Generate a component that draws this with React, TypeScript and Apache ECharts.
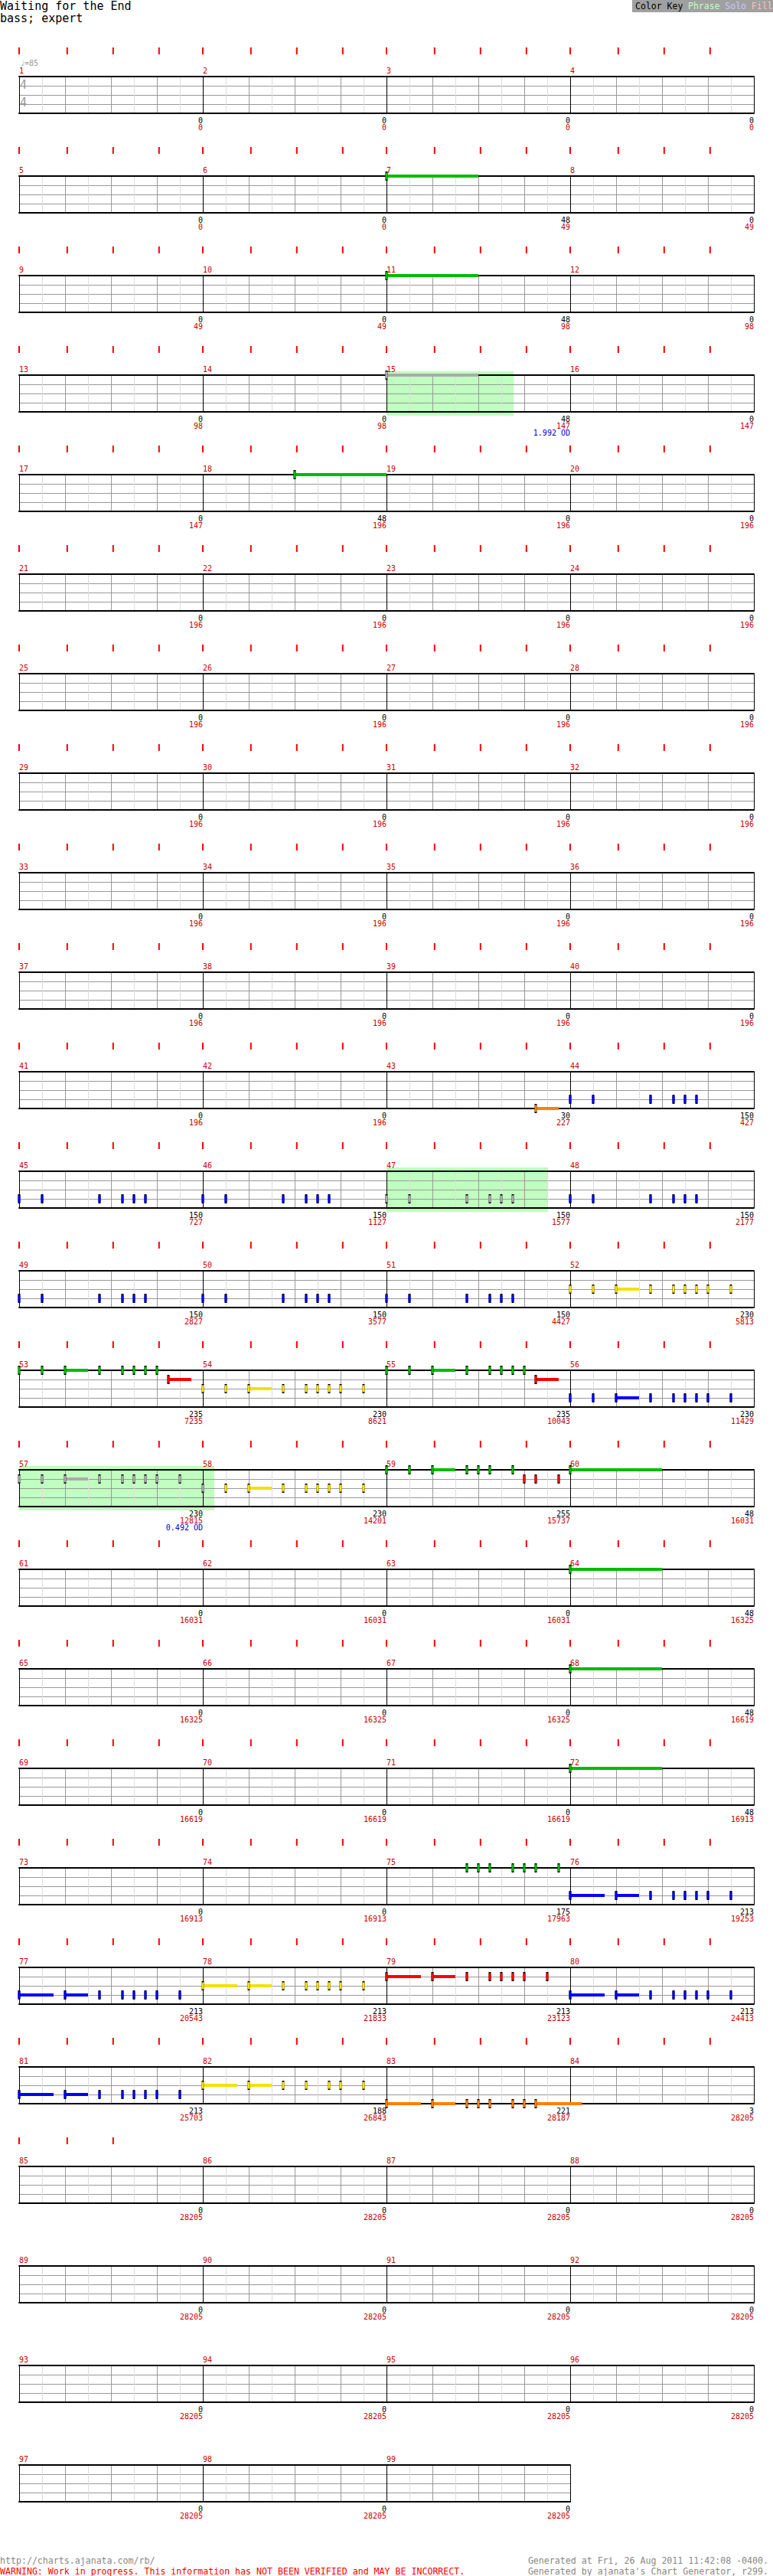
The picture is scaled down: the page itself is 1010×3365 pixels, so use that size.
import React, { useEffect, useRef } from "react";
import * as echarts from "echarts";

// ---------- texts ----------
const TITLE = "Waiting for the End";
const SUBTITLE = "bass; expert";
const TEMPO_LABEL = "\u2669=85";
const TIME_SIGNATURE = ["4", "4"];
const COLOR_KEY = [
  { text: "Color Key", color: "#000000" },
  { text: "Phrase", color: "#c0ffc0" },
  { text: "Solo", color: "#c8c8ff" },
  { text: "Fill", color: "#ffc0c0" },
];
const FOOTER_LEFT = [
  "http://charts.ajanata.com/rb/",
  "WARNING: Work in progress. This information has NOT BEEN VERIFIED and MAY BE INCORRECT.",
];
const FOOTER_RIGHT = [
  "Generated at Fri, 26 Aug 2011 11:42:08 -0400.",
  "Generated by ajanata's Chart Generator, r299.",
];

// ---------- structure ----------
const MEASURE_COUNT = 99;
const MEASURES_PER_ROW = 4;
const BEATS_PER_MEASURE = 4;
// red beat markers above each staff (beat offsets inside a measure)
const BEAT_MARKER_OFFSETS = [0, 1.047, 2.047, 3.047];
const LAST_MARKED_MEASURE = 85;
const LAST_MEASURE_MARKER_COUNT = 3;

// ---------- scores (per measure, and running total) ----------
const measureScores = [
  0, 0, 0, 0, 0, 0, 48, 0, 0, 0, 48, 0, 0, 0, 48, 0, 0, 48, 0, 0,
  0, 0, 0, 0, 0, 0, 0, 0, 0, 0, 0, 0, 0, 0, 0, 0, 0, 0, 0, 0,
  0, 0, 30, 150, 150, 150, 150, 150, 150, 150, 150, 230, 235, 230, 235, 230, 230, 230, 255, 48,
  0, 0, 0, 48, 0, 0, 0, 48, 0, 0, 0, 48, 0, 0, 175, 213, 213, 213, 213, 213,
  213, 188, 221, 3, 0, 0, 0, 0, 0, 0, 0, 0, 0, 0, 0, 0, 0, 0, 0,
];
const totalScores = [
  0, 0, 0, 0, 0, 0, 49, 49, 49, 49, 98, 98, 98, 98, 147, 147, 147, 196, 196, 196,
  196, 196, 196, 196, 196, 196, 196, 196, 196, 196, 196, 196, 196, 196, 196, 196, 196, 196, 196, 196,
  196, 196, 227, 427, 727, 1127, 1577, 2177, 2827, 3577, 4427, 5813, 7235, 8621, 10043, 11429, 12815, 14201, 15737, 16031,
  16031, 16031, 16031, 16325, 16325, 16325, 16325, 16619, 16619, 16619, 16619, 16913, 16913, 16913, 17963, 19253, 20543, 21833, 23123, 24413,
  25703, 26843, 28187, 28205, 28205, 28205, 28205, 28205, 28205, 28205, 28205, 28205, 28205, 28205, 28205, 28205, 28205, 28205, 28205,
];
const overdriveLabels: Record<number, string> = { 15: "1.992 OD", 57: "0.492 OD" };

// ---------- notes: [beat in measure, sustain length in beats] ----------
const riffHold: [number, number][] = [[0, 2]];
const riffLateHold: [number, number][] = [[2, 2]];
const riffPickup: [number, number][] = [[3.25, 0.5]];
const riffGroove: [number, number][] = [[0, 0], [0.5, 0], [1.75, 0], [2.25, 0], [2.5, 0], [2.75, 0]];
const riffRun: [number, number][] = [[0, 0], [0.5, 0], [1, 0.5], [1.75, 0], [2.25, 0], [2.5, 0], [2.75, 0], [3, 0], [3.5, 0]];
const riffRunShort: [number, number][] = [[0, 0], [0.5, 0], [1, 0.5], [1.75, 0], [2.25, 0], [2.5, 0], [2.75, 0], [3, 0]];
const riffFillA: [number, number][] = [[0, 0], [0.5, 0], [1, 0.5], [1.75, 0], [2, 0], [2.25, 0], [2.75, 0]];
const riffFillB: [number, number][] = [[3, 0], [3.25, 0], [3.75, 0]];
const riffLeadIn: [number, number][] = [[1.75, 0], [2, 0], [2.25, 0], [2.75, 0], [3, 0], [3.25, 0], [3.75, 0]];
const riffDrive: [number, number][] = [[0, 0.75], [1, 0.5], [1.75, 0], [2.25, 0], [2.5, 0], [2.75, 0], [3, 0], [3.5, 0]];
const riffDriveB: [number, number][] = [[0, 0.75], [1, 0.5], [1.75, 0], [2.25, 0], [2.75, 0], [3, 0], [3.5, 0]];
const riffEnding: [number, number][] = [[0, 0.75], [1, 0.5], [1.75, 0], [2, 0], [2.25, 0], [2.75, 0], [3, 0], [3.25, 1]];

// lanes: 0 green, 1 red, 2 yellow, 3 blue, 4 orange
const noteMeasures: [number, number, [number, number][]][] = [
  [7, 0, riffHold], [11, 0, riffHold], [15, 0, riffHold], [18, 0, riffLateHold],
  [43, 4, riffPickup],
  [44, 3, riffGroove], [45, 3, riffGroove], [46, 3, riffGroove], [47, 3, riffGroove],
  [48, 3, riffGroove], [49, 3, riffGroove], [50, 3, riffGroove], [51, 3, riffGroove],
  [52, 2, riffRun], [53, 0, riffRunShort], [53, 1, riffPickup], [54, 2, riffRun],
  [55, 0, riffRunShort], [55, 1, riffPickup], [56, 3, riffRun], [57, 1, riffRun], [58, 2, riffRun],
  [59, 0, riffFillA], [59, 1, riffFillB], [60, 0, riffHold],
  [64, 0, riffHold], [68, 0, riffHold], [72, 0, riffHold],
  [75, 0, riffLeadIn], [76, 3, riffDrive], [77, 3, riffDrive], [78, 2, riffDrive],
  [79, 1, riffDrive], [80, 3, riffDrive], [81, 3, riffDrive], [82, 2, riffDriveB], [83, 4, riffEnding],
];
// overdrive phrases: [measure, start beat, length in beats]
const phrases: [number, number, number][] = [[15, 0, 2.77], [47, 0, 3.52], [57, 0, 4.25]];

// ---------- styles ----------
const LANE_COLORS = ["#00bb00", "#ff0000", "#f5e000", "#0000ff", "#ff8000"];
const PHRASE_NOTE_COLOR = "#aaaaaa";
const PHRASE_FILL = "#c0ffc0";
const MONO = '"DejaVu Sans Mono", "Liberation Mono", monospace';
const SPLIT_COLORS = ["#000000", "#dddddd", "#999999", "#dddddd", "#999999", "#dddddd", "#999999", "#dddddd"];

const ROW_TOP = 100;
const ROW_STEP = 130;
const STAFF_LEFT = 25;
const MEASURE_WIDTH = 240;
const STAFF_HEIGHT = 48;

function beatOf(measure: number, beat: number) {
  return (measure - 1) * BEATS_PER_MEASURE + beat;
}

function buildOption() {
  const phraseSpans = phrases.map(([m, b, len]) => [beatOf(m, b), beatOf(m, b) + len]);
  const inPhrase = (t: number) => phraseSpans.some(([s, e]) => t >= s && t < e);

  const allNotes: number[][] = [];
  noteMeasures.forEach(([m, lane, riff]) => {
    riff.forEach(([b, sus]) => {
      const t = beatOf(m, b);
      allNotes.push([t, lane, sus, inPhrase(t) ? -1 : lane]);
    });
  });

  const markers: number[][] = [];
  for (let m = 1; m <= LAST_MARKED_MEASURE; m++) {
    const count = m === LAST_MARKED_MEASURE ? LAST_MEASURE_MARKER_COUNT : BEAT_MARKER_OFFSETS.length;
    for (let k = 0; k < count; k++) markers.push([beatOf(m, BEAT_MARKER_OFFSETS[k]), 0]);
  }

  const rowCount = Math.ceil(MEASURE_COUNT / MEASURES_PER_ROW);
  const grid: any[] = [];
  const xAxis: any[] = [];
  const yAxis: any[] = [];
  const series: any[] = [];

  for (let r = 0; r < rowCount; r++) {
    const measuresInRow = Math.min(MEASURES_PER_ROW, MEASURE_COUNT - r * MEASURES_PER_ROW);
    const min = r * MEASURES_PER_ROW * BEATS_PER_MEASURE;
    const max = min + measuresInRow * BEATS_PER_MEASURE;
    grid.push({
      left: STAFF_LEFT,
      top: ROW_TOP + ROW_STEP * r,
      width: MEASURE_WIDTH * measuresInRow,
      height: STAFF_HEIGHT,
      show: false,
    });
    // top axis: staff grid lines + measure numbers
    xAxis.push({
      gridIndex: r,
      type: "value",
      position: "top",
      min,
      max,
      interval: 0.5,
      axisLine: { show: true, onZero: false, lineStyle: { color: "#000", width: 2 } },
      axisTick: { show: false },
      splitLine: { show: true, lineStyle: { color: SPLIT_COLORS, width: 1 } },
      axisLabel: {
        show: true,
        showMinLabel: true,
        showMaxLabel: true,
        margin: 3,
        align: "left",
        color: "#cc0000",
        fontFamily: MONO,
        fontSize: 10,
        formatter: (v: number) =>
          v % BEATS_PER_MEASURE === 0 && v < max ? String(v / BEATS_PER_MEASURE + 1) : "",
      },
    });
    // bottom axis: measure scores
    xAxis.push({
      gridIndex: r,
      type: "value",
      position: "bottom",
      min,
      max,
      interval: BEATS_PER_MEASURE,
      axisLine: { show: true, onZero: false, lineStyle: { color: "#000", width: 2 } },
      axisTick: { show: false },
      splitLine: { show: false },
      axisLabel: {
        show: true,
        showMinLabel: true,
        showMaxLabel: true,
        margin: 5,
        align: "right",
        fontFamily: MONO,
        fontSize: 10,
        lineHeight: 9,
        formatter: (v: number) => {
          if (v === min) return "";
          const m = Math.round(v / BEATS_PER_MEASURE);
          let s = `{k|${measureScores[m - 1]}}\n{c|${totalScores[m - 1]}}`;
          if (overdriveLabels[m]) s += `\n{o|${overdriveLabels[m]}}`;
          return s;
        },
        rich: {
          k: { color: "#000", fontFamily: MONO, fontSize: 10, lineHeight: 9, align: "right" },
          c: { color: "#cc0000", fontFamily: MONO, fontSize: 10, lineHeight: 9, align: "right" },
          o: { color: "#0000cc", fontFamily: MONO, fontSize: 10, lineHeight: 9, align: "right" },
        },
      },
    });
    yAxis.push({
      gridIndex: r,
      type: "value",
      min: 0,
      max: 4,
      interval: 1,
      inverse: true,
      axisLine: { show: false },
      axisTick: { show: false },
      axisLabel: { show: false },
      splitLine: { show: true, lineStyle: { color: "#999999", width: 1 } },
    });

    const inRow = (t: number) => t >= min && t < max;
    const rowPhrases = phraseSpans.filter(([s]) => inRow(s));
    const rowMarkers = markers.filter(([t]) => inRow(t));
    const rowNotes = allNotes.filter(([t]) => inRow(t));

    if (rowPhrases.length) {
      series.push({
        type: "custom",
        xAxisIndex: 2 * r + 1,
        yAxisIndex: r,
        z: -1,
        silent: true,
        data: rowPhrases,
        encode: { x: [0, 1] },
        renderItem: (_p: any, api: any) => {
          const a = api.coord([api.value(0), 0]);
          const b = api.coord([api.value(1), 4]);
          return {
            type: "rect",
            shape: { x: a[0], y: a[1] - 5, width: b[0] - a[0], height: b[1] - a[1] + 10 },
            style: { fill: PHRASE_FILL },
          };
        },
      });
    }
    if (rowMarkers.length) {
      series.push({
        type: "custom",
        xAxisIndex: 2 * r + 1,
        yAxisIndex: r,
        silent: true,
        data: rowMarkers,
        encode: { x: 0, y: 1 },
        renderItem: (_p: any, api: any) => {
          const a = api.coord([api.value(0), api.value(1)]);
          return {
            type: "rect",
            shape: { x: a[0] - 1, y: a[1] - 38, width: 2, height: 9 },
            style: { fill: "#ff0000" },
          };
        },
      });
    }
    if (rowNotes.length) {
      series.push({
        type: "custom",
        xAxisIndex: 2 * r + 1,
        yAxisIndex: r,
        silent: true,
        data: rowNotes,
        encode: { x: 0, y: 1 },
        renderItem: (_p: any, api: any) => {
          const t = api.value(0);
          const lane = api.value(1);
          const sus = api.value(2);
          const ci = api.value(3);
          const color = ci < 0 ? PHRASE_NOTE_COLOR : LANE_COLORS[ci];
          const p = api.coord([t, lane]);
          const children: any[] = [];
          if (sus > 0) {
            const e = api.coord([t + sus, lane]);
            children.push({
              type: "rect",
              shape: { x: p[0], y: p[1] - 2, width: e[0] - p[0], height: 4 },
              style: { fill: color },
            });
          }
          children.push({
            type: "rect",
            shape: { x: p[0] - 1.5, y: p[1] - 6, width: 3, height: 12 },
            style: { fill: "#000" },
          });
          children.push({
            type: "rect",
            shape: { x: p[0] - 1.5, y: p[1] - 4.5, width: 3, height: 9 },
            style: { fill: color },
          });
          return { type: "group", children };
        },
      });
    }
  }

  const graphic: any[] = [
    { type: "text", x: 0, y: 8, style: { text: TITLE, fill: "#000", fontFamily: MONO, fontSize: 15, verticalAlign: "middle" } },
    { type: "text", x: 0, y: 24, style: { text: SUBTITLE, fill: "#000", fontFamily: MONO, fontSize: 15, verticalAlign: "middle" } },
    { type: "rect", shape: { x: 826, y: 0, width: 184, height: 16 }, style: { fill: "#a0a0a0" } },
    { type: "text", x: 26, y: 82, style: { text: TEMPO_LABEL, fill: "#999", fontFamily: MONO, fontSize: 10, verticalAlign: "middle" } },
    { type: "text", x: 26, y: 111, style: { text: TIME_SIGNATURE[0], fill: "#999", fontFamily: MONO, fontSize: 15, verticalAlign: "middle" } },
    { type: "text", x: 26, y: 134, style: { text: TIME_SIGNATURE[1], fill: "#999", fontFamily: MONO, fontSize: 15, verticalAlign: "middle" } },
  ];
  let kx = 830;
  COLOR_KEY.forEach((k) => {
    graphic.push({
      type: "text",
      x: kx,
      y: 8,
      style: { text: k.text, fill: k.color, fontFamily: MONO, fontSize: 11.5, verticalAlign: "middle" },
    });
    kx += (k.text.length + 1) * 6.9;
  });
  graphic.push(
    { type: "text", x: 0, y: 3345, style: { text: FOOTER_LEFT[0], fill: "#888", fontFamily: MONO, fontSize: 11.6, verticalAlign: "middle" } },
    { type: "text", x: 0, y: 3359, style: { text: FOOTER_LEFT[1], fill: "#ff0000", fontFamily: MONO, fontSize: 11.6, verticalAlign: "middle" } },
    { type: "text", x: 1004, y: 3345, style: { text: FOOTER_RIGHT[0], fill: "#888", fontFamily: MONO, fontSize: 11.6, align: "right", verticalAlign: "middle" } },
    { type: "text", x: 1004, y: 3359, style: { text: FOOTER_RIGHT[1], fill: "#888", fontFamily: MONO, fontSize: 11.6, align: "right", verticalAlign: "middle" } }
  );

  return {
    animation: false,
    backgroundColor: "#ffffff",
    grid,
    xAxis,
    yAxis,
    series,
    graphic,
  };
}

export default function App() {
  const ref = useRef<HTMLDivElement>(null);
  useEffect(() => {
    if (!ref.current) return;
    const chart = echarts.init(ref.current, undefined, { renderer: "svg" });
    chart.setOption(buildOption() as any);
    return () => chart.dispose();
  }, []);
  return (
    <div
      ref={ref}
      style={{ position: "absolute", left: 0, top: 0, width: 1010, height: 3365, background: "#fff" }}
    />
  );
}
